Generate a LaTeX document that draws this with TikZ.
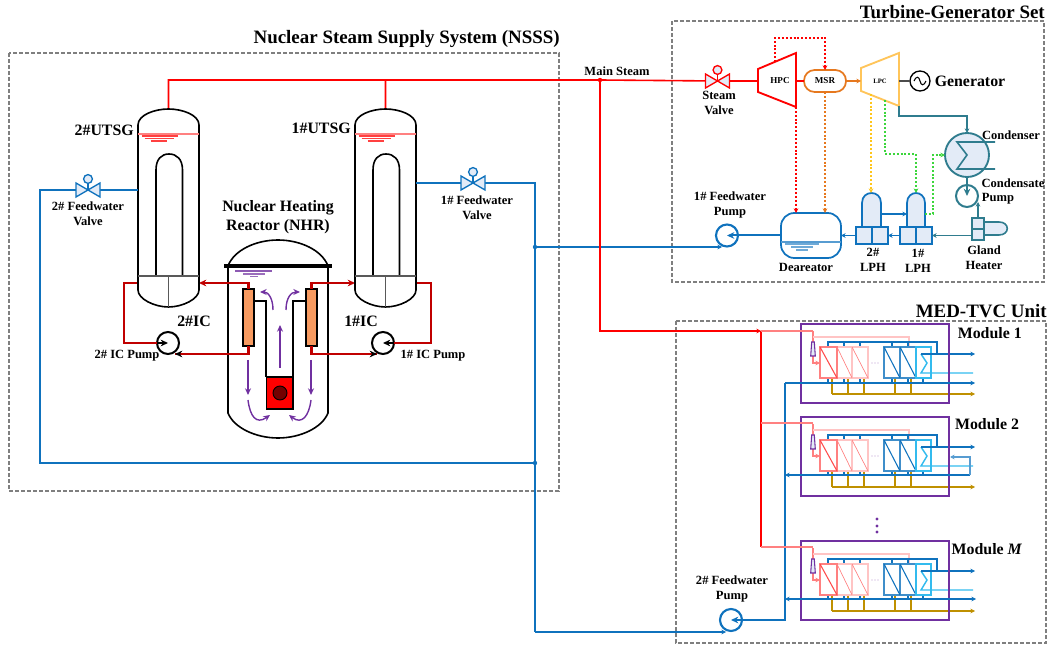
\documentclass[tikz,border=0pt]{standalone}
\usepackage{fontspec}
\setmainfont{Liberation Serif}
\usetikzlibrary{arrows.meta,calc}
\definecolor{cblue}{HTML}{0F72BD}
\definecolor{clight}{HTML}{E3EBF7}
\definecolor{cteal}{HTML}{2F7C8E}
\definecolor{cdred}{HTML}{C00000}
\definecolor{cpurple}{HTML}{7030A0}
\definecolor{corange}{HTML}{E6781E}
\definecolor{cyellow}{HTML}{FFC55A}
\definecolor{cydot}{HTML}{FFC61A}
\definecolor{cgreen}{HTML}{3CD63C}
\definecolor{cgold}{HTML}{BF9000}
\definecolor{cpink}{HTML}{FF8080}
\definecolor{clpink}{HTML}{FFC4C4}
\definecolor{csky}{HTML}{33BBEE}
\definecolor{cgrayd}{HTML}{7F7F7F}
\definecolor{cic}{HTML}{F79A60}
\tikzset{
  >={Stealth[length=5.5pt,width=5pt]},
  smallarrow/.style={>={Stealth[length=3.5pt,width=3.5pt]}},
  framebox/.style={draw=cgrayd,line width=1.3pt,dash pattern=on 3pt off 1.5pt},
  blab/.style={font=\bfseries\fontsize{9.4}{11.2}\selectfont,align=center,inner sep=0pt},
  mlab/.style={font=\bfseries\fontsize{11.9}{14}\selectfont,align=center,inner sep=0pt},
  ttl/.style={font=\bfseries\fontsize{14.2}{16}\selectfont,inner sep=0pt},
  redl/.style={draw=red,line width=1.2pt},
  dredl/.style={draw=cdred,line width=1.6pt},
  bluel/.style={draw=cblue,line width=1.2pt},
  tealrl/.style={draw=cteal,line width=1.2pt},
  dots/.style={line width=1pt,dash pattern=on 1.5pt off 1.4pt},
  purp/.style={draw=cpurple,line width=1.05pt,->,>={Stealth[length=5pt,width=4.5pt]}},
  vessel/.style={draw=black,line width=1.2pt},
  pumpk/.style={circle,draw=black,line width=1.5pt,minimum size=16.5pt,inner sep=0pt,outer sep=0pt},
  pumpb/.style={circle,draw=cblue,line width=1.6pt,minimum size=16.5pt,inner sep=0pt,outer sep=0pt},
  icbox/.style={rectangle,draw=black,fill=cic,line width=.9pt,minimum width=8.25pt,minimum height=42.75pt,inner sep=0pt,outer sep=0pt},
  valve/.pic={
    \path[draw=#1,line width=1pt,fill=clight] (-12,-7) -- (12,7) -- (12,-7) -- (-12,7) -- cycle;
    \draw[#1,line width=1pt] (0,0) -- (0,-7);
    \draw[#1,line width=1pt,fill=clight] (0,-11) circle[radius=4.4];
  },
  utsg/.pic={
    \draw[vessel] (-30.5,167) -- (-30.5,16) .. controls (-30.5,6) and (-14,0) .. (0,0) .. controls (14,0) and (30.5,6) .. (30.5,16) -- (30.5,181)
       .. controls (30.5,190) and (14,198) .. (0,198) .. controls (-14,198) and (-30.5,190) .. (-30.5,181) -- cycle;
    \draw[vessel] (-12.5,167) -- (-12.5,61) .. controls (-12.5,50) and (-7,45) .. (0.5,45) .. controls (8,45) and (14,50) .. (14,61) -- (14,167);
    \draw[draw=black!65,line width=.9pt] (-30.5,167) -- (30.5,167) (0,167) -- (0,198);
    \draw[draw=cpink,line width=1.1pt] (-30.5,25) -- (30.5,25);
    \draw[draw=red!75,line width=.8pt] (-27,27) -- (9,27) (-24,29.5) -- (5,29.5) (-18,32) -- (-2,32);
  },
  modunit/.pic={
    \draw[cpink,line width=.9pt,->,smallarrow] (12,7) -- (12,39) -- (19,39);
    \draw[cpurple,line width=.8pt,fill=clight] (9.7,32) -- (14.3,32) -- (13.3,18) -- (10.7,18) -- cycle;
    \draw[clpink,line width=1.1pt] (12,13) -- (108,13) -- (108,23);
    \draw[cblue,line width=.8pt] (27,23) -- (27,18) -- (136,18) -- (136,30);
    \foreach \xx in {43,59,91,107} \draw[cblue,line width=.8pt] (\xx,18) -- (\xx,23);
    \foreach \xx in {27,43,59,91,107,122} \draw[cblue,line width=.8pt] (\xx,54) -- (\xx,59);
    \foreach \xx in {31,47,63,94,110} \draw[cgold,line width=.9pt] (\xx,54) -- (\xx,70);
    \draw[cgold,line width=.9pt,->,smallarrow] (31,70) -- (174,70);
    \draw[clpink,line width=.9pt] (36,23) rectangle (51,54) (51,23) rectangle (67,54);
    \draw[cpink,line width=.5pt] (36,23) -- (51,54) (51,23) -- (67,54);
    \draw[cpink,line width=1pt] (19,23) rectangle (36,54);
    \draw[red!70,line width=.8pt] (19,23) -- (36,54);
    \draw[cblue!80,line width=1pt] (83,23) rectangle (99,54) (99,23) rectangle (115,54);
    \draw[cblue,line width=.8pt] (83,23) -- (99,54) (99,23) -- (115,54);
    \draw[csky,line width=1pt] (115,23) rectangle (130,54);
    \draw[csky,line width=1.1pt] (120,30) -- (126,39) -- (120,49) -- (172,49);
    \draw[cblue,line width=.9pt,->,smallarrow] (120,30) -- (174,30);
    \fill[cpurple!50] (71,39) circle[radius=.6] (74,39) circle[radius=.6] (77,39) circle[radius=.6];
    \draw[cpurple,line width=1.7pt] (0,0) rectangle (148,79);
  }
}
\begin{document}
\begin{tikzpicture}[x=0.75pt,y=-0.75pt]
\useasboundingbox (0,0) rectangle (1047,645);
% frames
\draw[framebox] (9,53) rectangle (559,491);
\draw[framebox] (672,21) rectangle (1044,282);
\draw[framebox] (676,321) rectangle (1046,643);
\node[ttl,anchor=east] (tnsss) at (560,39) {Nuclear Steam Supply System (NSSS)};
\node[ttl,anchor=east] (ttg) at (1045,12) {Turbine-Generator Set};
\node[ttl,anchor=east] (tmed) at (1047,311) {MED-TVC Unit};
% UTSGs
\coordinate (u2top) at (168.5,109);
\coordinate (u1top) at (385.5,109);
\coordinate (u2fw) at (138,190);
\coordinate (u1fw) at (416,183);
\coordinate (u2hin) at (199,283);
\coordinate (u2hout) at (138,283);
\coordinate (u1hin) at (355,283);
\coordinate (u1hout) at (416,283);
\node[mlab,anchor=east] (l2u) at (134,130) {2\#UTSG};
\node[mlab,anchor=east] (l1u) at (351,128) {1\#UTSG};
% reactor
\draw[vessel] (228,266) .. controls (234,250) and (256,240) .. (278,240) .. controls (300,240) and (322,250) .. (328,266) -- (328,413)
   .. controls (322,428) and (300,438) .. (278,438) .. controls (256,438) and (234,428) .. (228,413) -- cycle;
\draw[black,line width=2.6pt] (224,266) -- (332,266);
\draw[cpurple!80,line width=.9pt] (235,271) -- (272,271);
\draw[cpurple!70,line width=.8pt] (243,274) -- (265,274) (250,276.5) -- (258,276.5);
\draw[vessel] (254,301) -- (266,301) -- (266,377);
\draw[vessel] (306,301) -- (293,301) -- (293,377);
\node[rectangle,draw=black,fill=red,line width=1pt,minimum width=20pt,minimum height=24pt,inner sep=0pt,outer sep=0pt] (core) at (279.5,393) {};
\node[circle,draw=black,fill=red!45!black,line width=.7pt,minimum size=10.5pt,inner sep=0pt] (fuel) at (280,393) {};
\node[icbox] (ic2) at (248.5,317.5) {};
\node[icbox] (ic1) at (311.5,317.5) {};
\node[mlab] (lnhr) at (278,217.5) {Nuclear Heating\\[0.5pt]Reactor (NHR)};
% IC pumps
\node[pumpk] (p2) at (168,343) {};
\node[pumpk] (p1) at (383,343) {};
\coordinate (c2a) at (124,283);
\coordinate (c2b) at (124,343);
\coordinate (c1a) at (431,283);
\coordinate (c1b) at (431,343);
\draw[dredl,->] (ic2.north) |- (u2hin);
\draw[dredl,->] (ic1.north) |- (u1hin);
\draw[dredl] (u2hout) -- (c2a) -- (c2b) -- (p2.west);
\draw[->,draw=black,line width=1.2pt] (p2.west) -- (p2.center);
\draw[dredl] (u1hout) -- (c1a) -- (c1b) -- (p1.east);
\draw[->,draw=black,line width=1.2pt] (p1.east) -- (p1.center);
\coordinate (p2b) at (175,354);
\coordinate (p1b) at (377,354);
\draw[dredl] (ic2.south) -- ++(0,8) -- (p2b);
\draw[dredl] (ic1.south) -- ++(0,8) -- (p1b);
\draw[black,->,line width=.9pt] ($(p2b)+(4,0)$) -- (p2b);
\draw[black,->,line width=.9pt] ($(p1b)+(-4,0)$) -- (p1b);
\node[mlab] (l2ic) at (194,321) {2\#IC};
\node[mlab] (l1ic) at (361,321) {1\#IC};
\node[blab] (l2icp) at (127,356) {2\# IC Pump};
\node[blab] (l1icp) at (433,356) {1\# IC Pump};
% purple flow
\draw[purp] (280,368) -- (280,325);
\draw[purp] (248,360) -- (248,395);
\draw[purp] (311,360) -- (311,395);
\draw[purp] (273,310) .. controls (273,298) and (268,292) .. (260,292);
\draw[purp] (286,310) .. controls (286,298) and (291,292) .. (300,292);
\draw[purp] (248,400) .. controls (250,416) and (256,425) .. (270,415);
\draw[purp] (311,400) .. controls (309,416) and (302,425) .. (289,415);
% Main steam
\coordinate (msj) at (600,80);
\coordinate (ms2) at (168.5,80);
\coordinate (ms1) at (385.5,80);
\coordinate (sv) at (717.5,81);
\coordinate (hpcW) at (758,81);
\draw[redl] (u2top) -- (ms2) -- (msj) -- (sv) -- (hpcW) (u1top) -- (ms1);
\pic at (168.5,109) {utsg};
\pic at (385.5,109) {utsg};
\node[blab] (lms) at (617,71) {Main Steam};
\pic at (sv) {valve=red};
\node[blab] (lsv) at (719,103) {Steam\\Valve};
\fill[red] (msj) circle[radius=2.2];
% Turbines
\draw[draw=red,line width=1.4pt,fill=white] (758,69) -- (796,53) -- (796,107) -- (758,92) -- cycle;
\node[font=\bfseries\fontsize{6.8}{7}\selectfont,inner sep=0pt] (hpc) at (780,81) {HPC};
\node[rectangle,rounded corners=8pt,draw=corange,line width=1.3pt,fill=white,minimum width=31.5pt,minimum height=16.5pt,inner sep=0pt,outer sep=0pt,font=\bfseries\fontsize{6.8}{7}\selectfont] (msr) at (825,81) {MSR};
\draw[draw=cyellow,line width=1.4pt,fill=white] (861,68) -- (899,53) -- (899,106) -- (861,91) -- cycle;
\node[font=\bfseries\fontsize{5}{6}\selectfont,inner sep=0pt] (lpc) at (880,81) {LPC};
\coordinate (hpcE) at (796,81);
\coordinate (lpcW) at (861,81);
\coordinate (lpcE) at (899,81);
\coordinate (hpcT) at (775,62);
\coordinate (hpcB) at (796,107);
\draw[redl] (hpcE) -- (msr.west);
\draw[corange,line width=1.2pt,->,smallarrow] (msr.east) -- (lpcW);
\draw[red,dots,->,smallarrow] (hpcT) -- (775,38) -- (825,38) -- (msr.north);
\node[circle,draw=black,line width=1pt,minimum size=15pt,inner sep=0pt,outer sep=0pt] (gen) at (920,81) {};
\draw[black,line width=.8pt] (914,81) .. controls (916,76) and (919,76) .. (920,81) .. controls (921,86) and (924,86) .. (926,81);
\draw[black!70,line width=1pt] (lpcE) -- (gen.west);
\node[font=\bfseries\fontsize{11.9}{13}\selectfont,inner sep=0pt] (lgen) at (970,81) {Generator};
% Condenser
\node[circle,draw=cteal,fill=clight,line width=1.4pt,minimum size=33pt,inner sep=0pt,outer sep=0pt] (cond) at (967,155) {};
\draw[cteal,line width=1.2pt] (995,142) -- (957,142) -- (967,155) -- (957,169) -- (995,169);
\coordinate (lpcB) at (899,106);
\coordinate (cj1) at (899,116);
\coordinate (cj2) at (967,116);
\draw[tealrl,->,smallarrow] (lpcB) -- (cj1) -- (cj2) -- (cond.north);
\node[circle,draw=cteal,line width=1.5pt,minimum size=16.5pt,inner sep=0pt,outer sep=0pt] (cp) at (967,196) {};
\draw[tealrl,->] (cond.south) -- (cp.center);
\node[font=\bfseries\fontsize{9.4}{11}\selectfont,inner sep=0pt] (lcond) at (1011,135) {Condenser};
\node[font=\bfseries\fontsize{9.4}{11}\selectfont,inner sep=0pt] (lcp1) at (1013,183) {Condensate};
\node[font=\bfseries\fontsize{9.4}{11}\selectfont,inner sep=0pt] (lcp2) at (998,199) {Pump};
% Gland heater
\draw[cteal,line width=1.2pt,fill=clight] (984,222) -- (999,222) .. controls (1010,222) and (1010,235) .. (999,235) -- (984,235);
\node[rectangle,draw=cteal,fill=clight,line width=1.2pt,minimum width=9pt,minimum height=16.5pt,inner sep=0pt,outer sep=0pt] (gh) at (978,229) {};
\draw[cteal,line width=1.2pt] (972,229) -- (984,229);
\draw[tealrl,->,smallarrow] (gh.north) -- (978,202);
\node[blab] (lgh) at (984,258) {Gland\\Heater};
% LPHs
\draw[cblue,line width=1.3pt,fill=clight] (862,227) -- (862,203) .. controls (862,196) and (867,193) .. (871.5,193) .. controls (876,193) and (881,196) .. (881,203) -- (881,227);
\draw[cblue,line width=1.3pt,fill=clight] (907,227) -- (907,203) .. controls (907,196) and (912,193) .. (916,193) .. controls (920,193) and (925,196) .. (925,203) -- (925,227);
\node[rectangle,draw=cblue,fill=clight,line width=1.3pt,minimum width=24pt,minimum height=12.75pt,inner sep=0pt,outer sep=0pt] (lph2) at (872,235.5) {};
\node[rectangle,draw=cblue,fill=clight,line width=1.3pt,minimum width=24pt,minimum height=12.75pt,inner sep=0pt,outer sep=0pt] (lph1) at (916,235.5) {};
\draw[cblue,line width=1.3pt] (872,227) -- (872,244) (916,227) -- (916,244);
\coordinate (l2d) at (881,214);
\coordinate (l1d) at (907,214);
\coordinate (l1g) at (925,214);
\draw[bluel,->,smallarrow] (l2d) -- (l1d);
\draw[tealrl,->,smallarrow] (gh.west |- lph1.east) -- (lph1.east);
\draw[bluel,->,smallarrow] (lph1.west) -- (lph2.east);
\node[blab] (ll2) at (873,259.5) {2\#\\LPH};
\node[blab] (ll1) at (918,260.5) {1\#\\LPH};
% Deaerator
\node[rectangle,rounded corners=10pt,draw=cblue,fill=white,line width=1.3pt,minimum width=45pt,minimum height=33.75pt,inner sep=0pt,outer sep=0pt] (dea) at (811,235.5) {};
\draw[cblue!70,line width=.9pt] (781,242) -- (841,242);
\draw[cblue!60,line width=.8pt] (785,244) -- (819,244) (791,247) -- (813,247) (796,250) -- (808,250);
\draw[bluel,->,smallarrow] (lph2.west) -- (dea.east);
\node[blab] (ldea) at (806,267) {Deareator};
\node[pumpb] (fp1) at (727,235.5) {};
\draw[bluel,line width=1.5pt,->] (dea.west) -- (fp1.center);
\node[blab] (lfp1) at (730,205) {1\# Feedwater\\Pump};
% dotted extractions
\draw[red,dots,->,smallarrow] (hpcB) -- (dea.north -| hpcB);
\draw[corange,dots,->,smallarrow] (msr.south) -- (dea.north -| msr.south);
\coordinate (lpcy) at (871,94);
\coordinate (lpcg) at (885,100);
\draw[cydot,dots,->,smallarrow] (lpcy) -- (871,193);
\draw[cgreen,dots,->,smallarrow] (lpcg) -- (885,154) -- (916,154) -- (916,193);
\draw[cgreen,dots,->,smallarrow] (l1g) -- (933,214) -- (933,155) -- (cond.west);
% feedwater valves and lines
\coordinate (fwL) at (40,463);
\coordinate (fwLt) at (40,190);
\coordinate (fwJ1) at (535,247);
\coordinate (fwJ2) at (535,463);
\coordinate (fwR) at (535,183);
\coordinate (fwB) at (535,632);
\coordinate (v2) at (88,190);
\coordinate (v1) at (473,183);
\draw[bluel] (u2fw) -- (fwLt) -- (fwL) -- (fwJ2);
\draw[bluel] (u1fw) -- (fwR) -- (fwJ2) -- (fwB);
\draw[bluel,->,smallarrow] (fwJ1) -- (722,247);
\fill[cblue] (fwJ1) circle[radius=2.2] (fwJ2) circle[radius=2.2];
\pic at (v2) {valve=cblue};
\pic at (v1) {valve=cblue};
\node[blab] (lv2) at (88,213.5) {2\# Feedwater\\Valve};
\node[blab] (lv1) at (477,207.5) {1\# Feedwater\\Valve};
% 2# pump
\node[pumpb] (fp2) at (731,620) {};
\coordinate (mb) at (785,620);
\coordinate (mt) at (785,383);
\draw[bluel,line width=1.7pt,->] (mt) -- (mb) -- (fp2.center);
\draw[bluel,line width=1.4pt,->,smallarrow] (fwB) -- (726,632);
\node[blab] (lfp2) at (732,589) {2\# Feedwater\\Pump};
% steam to MED
\coordinate (mss) at (600,331);
\coordinate (mr1) at (761,331);
\coordinate (mr2) at (761,423);
\coordinate (mr3) at (761,547);
\draw[redl,->,smallarrow] (msj) -- (mss) -- (mr1);
\draw[red,line width=1.8pt] (mr1) -- (mr3);
% modules
\pic at (801,324) {modunit};
\pic at (801,417) {modunit};
\pic at (801,541) {modunit};
\draw[cpink,line width=.9pt] (mr1) -- (813,331);
\draw[cpink,line width=.9pt] (mr2) -- (813,423);
\draw[cpink,line width=.9pt] (mr3) -- (813,547);
\coordinate (b1) at (975,383);
\coordinate (b2) at (970,475);
\coordinate (b3) at (976,599);
\coordinate (b2l) at (785,475);
\coordinate (b3l) at (785,599);
\draw[cblue,line width=.9pt,->,smallarrow] (mt) -- (b1);
\draw[cblue,line width=.9pt,->,smallarrow] (b2) -- (b2l);
\draw[cblue,line width=.9pt,<->,smallarrow] (b3l) -- (b3);
\draw[cblue!70,line width=1.1pt,->,smallarrow] (b2) -- (970,457) -- (950,457);
\node[mlab,anchor=east] (lm1) at (1022,333) {Module 1};
\node[mlab] (lm2) at (987,424) {Module 2};
\node[mlab] (lm3) at (987,549) {Module \textit{M}};
\fill[cpurple] (877,519) circle[radius=1.6] (877,526) circle[radius=1.6] (877,532) circle[radius=1.6];
\end{tikzpicture}
\end{document}
